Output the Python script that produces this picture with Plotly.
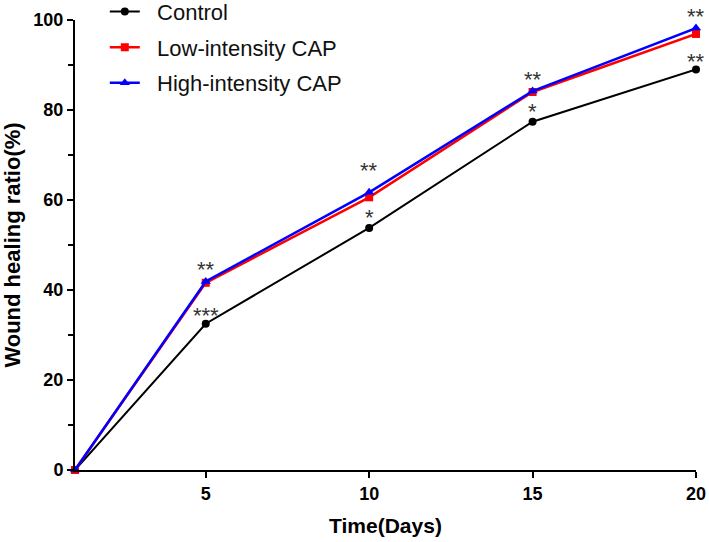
import plotly.graph_objects as go

days = [1, 5, 10, 15, 20]
control = [0, 32.5, 53.8, 77.4, 89.0]
low_cap = [0, 41.6, 60.6, 84.0, 96.9]
high_cap = [0, 41.9, 61.7, 84.2, 98.2]

sig_days = [5, 10, 15, 20]
sig_top = ["**", "**", "**", "**"]
sig_control = ["***", "*", "*", "**"]

x_ticks = [5, 10, 15, 20]
y_ticks = [0, 20, 40, 60, 80, 100]

FONT = "Arial, Liberation Sans, sans-serif"
PAD = "&nbsp;&nbsp;"
top_shift = [12, 22, 12, 12]
ctrl_shift = [8, 10, 10, 8]

fig = go.Figure()
fig.add_trace(go.Scatter(x=days, y=control, name=PAD + "Control", mode="lines+markers",
                         legendgroup="a",
                         line=dict(color="black", width=2),
                         marker=dict(symbol="circle", size=8, color="black"),
                         cliponaxis=False))
fig.add_trace(go.Scatter(x=days, y=low_cap, name=PAD + "Low-intensity CAP", mode="lines+markers",
                         legendgroup="b",
                         line=dict(color="#ff0000", width=2.5),
                         marker=dict(symbol="square", size=8, color="#ff0000"),
                         cliponaxis=False))
fig.add_trace(go.Scatter(x=days, y=high_cap, name=PAD + "High-intensity CAP", mode="lines+markers",
                         legendgroup="c",
                         line=dict(color="#0000ff", width=2.5),
                         marker=dict(symbol="triangle-up", size=9, color="#0000ff"),
                         cliponaxis=False))

top_vals = [max(a, b) for a, b in zip(low_cap[1:], high_cap[1:])]
for d, s, yv, sh in zip(sig_days, sig_top, top_vals, top_shift):
    fig.add_annotation(x=d, y=yv, text=s, showarrow=False, yshift=sh,
                       font=dict(family=FONT, size=22, color="#333"))
for d, s, yv, sh in zip(sig_days, sig_control, control[1:], ctrl_shift):
    fig.add_annotation(x=d, y=yv, text=s, showarrow=False, yshift=sh,
                       font=dict(family=FONT, size=22, color="#333"))

fig.update_layout(
    width=709, height=542,
    margin=dict(l=75, r=13, t=20, b=72, autoexpand=False),
    paper_bgcolor="white", plot_bgcolor="white",
    font=dict(family=FONT, color="black"),
    showlegend=True,
    legend=dict(x=0.048, y=1.065, xanchor="left", yanchor="top",
                font=dict(family=FONT, size=22, color="#111"),
                bgcolor="rgba(0,0,0,0)", tracegroupgap=4, itemwidth=30),
    xaxis=dict(range=[1, 20], tickvals=x_ticks, ticktext=[str(v) for v in x_ticks],
               showline=True, linecolor="black", linewidth=2,
               ticks="outside", ticklen=6, tickwidth=2, tickcolor="black",
               showgrid=False, zeroline=False,
               tickfont=dict(family=FONT, size=18, color="black", weight="bold"),
               title=dict(text="<b>Time(Days)</b>", font=dict(family=FONT, size=21, color="black"),
                          standoff=16)),
    yaxis=dict(range=[0, 100], tickvals=y_ticks, ticktext=[str(v) for v in y_ticks],
               showline=True, linecolor="black", linewidth=2,
               ticks="outside", ticklen=6, tickwidth=2, tickcolor="black",
               minor=dict(dtick=10, ticks="outside", ticklen=5, tickwidth=1.5, tickcolor="black"),
               showgrid=False, zeroline=False,
               tickfont=dict(family=FONT, size=18, color="black", weight="bold"),
               title=dict(text="<b>Wound healing ratio(%)</b>", font=dict(family=FONT, size=22, color="black"),
                          standoff=9)),
)

fig.write_html("out.html", config={"displayModeBar": False},
               post_script="document.body.style.margin='0';")
